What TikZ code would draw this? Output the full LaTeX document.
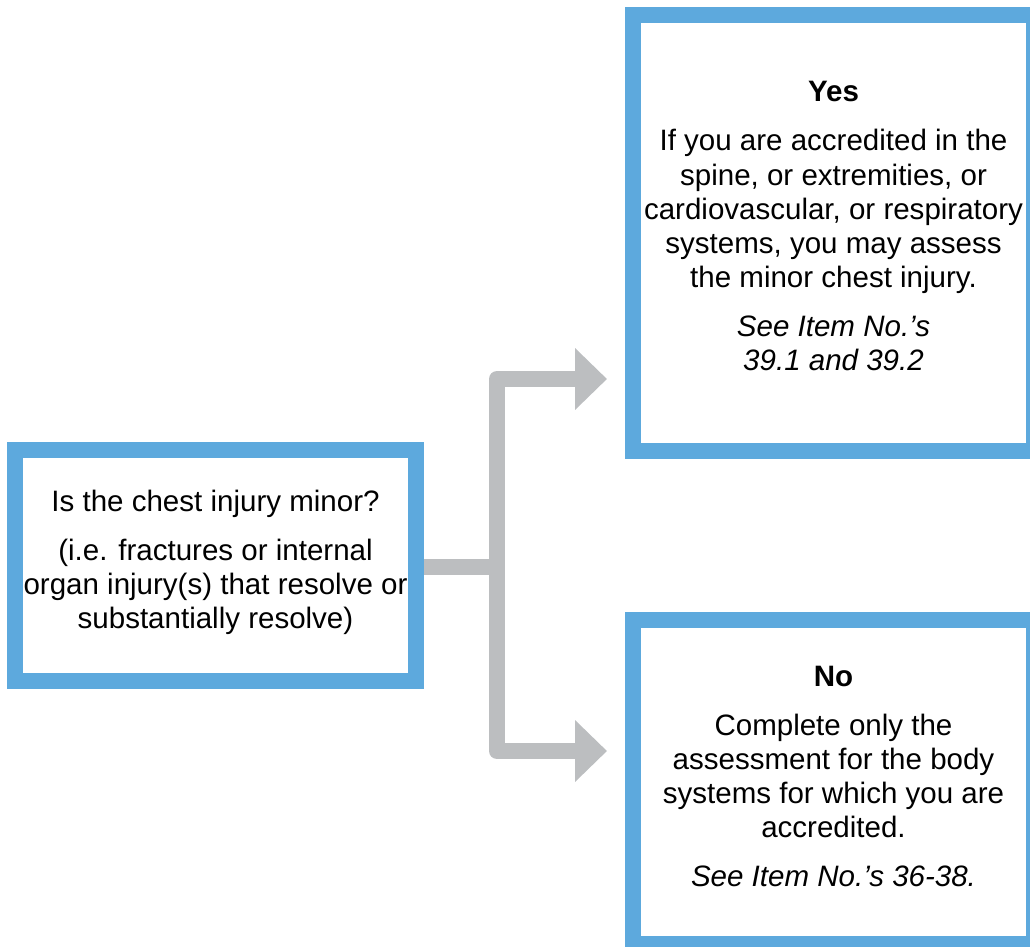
\documentclass[tikz,border=0pt]{standalone}
\usepackage{fontspec}
\setmainfont{Liberation Sans}
\usetikzlibrary{arrows.meta, positioning}
\definecolor{boxblue}{RGB}{93,169,221}
\definecolor{flowgrey}{RGB}{188,190,192}

\begin{document}
\begin{tikzpicture}[x=0.02cm, y=-0.02cm,
        box/.style={draw=boxblue, line width=0.32cm, fill=white, align=center,
            minimum width=8.02cm, inner sep=0pt,
            font=\fontsize{16.8}{19.4}\selectfont},
        flow/.style={draw=flowgrey, line width=0.32cm, line join=round}]
    \useasboundingbox (0,0) rectangle (1030,946);
    \clip (0,0) rectangle (1030,946);
    \node[box, minimum height=4.62cm, text depth=7.5pt] (q) at (215.5,565.5)
        {Is the chest injury minor?\\[8.5pt]
         (i.e. fractures or internal\\
         organ injury(s) that resolve or\\
         substantially resolve)};
    \node[box, minimum height=8.72cm, text depth=8pt] (yes) at (833.5,233)
        {\textbf{Yes}\\[8.5pt]
         If you are accredited in the\\
         spine, or extremities, or\\
         cardiovascular, or respiratory\\
         systems, you may assess\\
         the minor chest injury.\\[8.5pt]
         \textit{See Item No.’s}\\
         \textit{39.1 and 39.2}};
    \node[box, minimum height=6.48cm, text depth=6.5pt] (no) at (833.5,782)
        {\textbf{No}\\[8.5pt]
         Complete only the\\
         assessment for the body\\
         systems for which you are\\
         accredited.\\[8.5pt]
         \textit{See Item No.’s 36-38.}};
    % branch point and arrow ends
    \coordinate (split) at (497,567);
    \coordinate (yestip) at (607,379);
    \coordinate (notip) at (607,751);
    \draw[flow] (q.east |- split) -- (split);
    \draw[flow, {Triangle[length=0.64cm, width=1.2cm]}-{Triangle[length=0.64cm, width=1.2cm]}]
        (yestip) -| (split) |- (notip);
\end{tikzpicture}
\end{document}
